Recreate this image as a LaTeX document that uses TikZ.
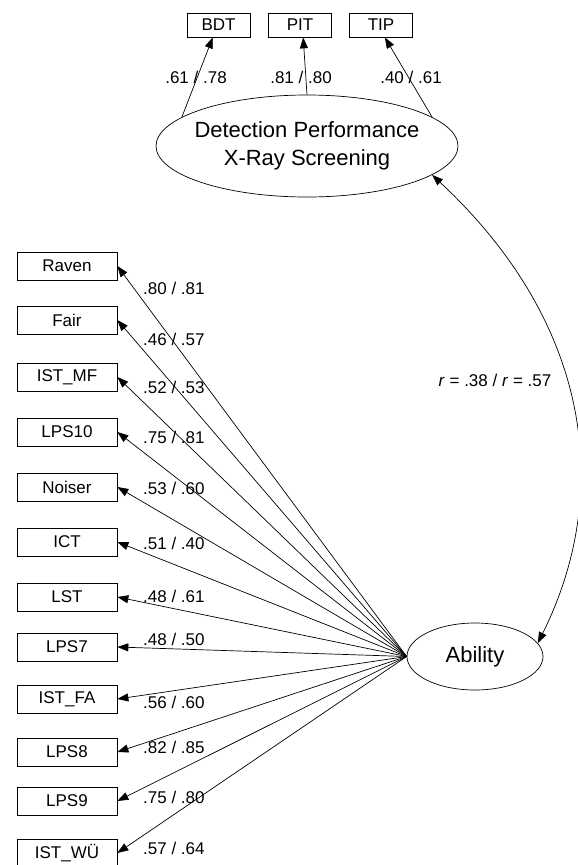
\documentclass[tikz,border=0pt]{standalone}
\usepackage{fontspec}
\setmainfont{Liberation Sans}
\usetikzlibrary{shapes.geometric,arrows.meta,calc}
\begin{document}
\begin{tikzpicture}[x=1pt,y=-1pt,
  obs/.style={draw, line width=0.7pt, minimum width=100pt, minimum height=28pt, inner sep=0pt, font=\fontsize{17}{20}\selectfont},
  obstop/.style={obs, minimum width=63pt, minimum height=24pt},
  lat/.style={draw, ellipse, line width=0.7pt, inner sep=0pt},
  lattext/.style={font=\fontsize{22}{28}\selectfont, align=center, inner sep=0pt},
  load/.style={font=\fontsize{17}{20}\selectfont, inner sep=0pt},
  arr/.style={line width=0.7pt, -{Triangle[length=11pt,width=8pt]}},
  darr/.style={line width=0.7pt, {Triangle[length=11pt,width=8pt]}-{Triangle[length=11pt,width=8pt]}},
]
\useasboundingbox (0,0) rectangle (578,865);

% top indicators
\node[obstop] (bdt) at (218.5,25) {BDT};
\node[obstop] (pit) at (300,25) {PIT};
\node[obstop] (tip) at (381,25) {TIP};

% latent variables
\node[lat, minimum width=302pt, minimum height=102pt] (det) at (307,146) {};
\node[lattext] (dett) at (det.center) {Detection Performance\\X-Ray Screening};
\node[lat, minimum width=136pt, minimum height=67pt] (abl) at (475,656.5) {};
\node[lattext] (ablt) at (abl.center) {Ability};

% top loadings
\draw[arr] (det.167) -- ($(bdt.south west)!0.41!(bdt.south east)$);
\draw[arr] (det.north) -- ($(pit.south west)!0.55!(pit.south east)$);
\draw[arr] (det.13) -- ($(tip.south west)!0.56!(tip.south east)$);
\node[load] (l1) at (196,77) {.61 / .78};
\node[load] (l2) at (301,77) {.81 / .80};
\node[load] (l3) at (411,77) {.40 / .61};

% left indicators
\node[obs] (raven) at (67,266) {Raven};
\node[obs] (fair) at (67,320) {Fair};
\node[obs] (istmf) at (67,377) {IST\_MF};
\node[obs] (lps10) at (67,432) {LPS10};
\node[obs] (noiser) at (67,487) {Noiser};
\node[obs] (ict) at (67,542) {ICT};
\node[obs] (lst) at (67,597) {LST};
\node[obs] (lps7) at (67,647) {LPS7};
\node[obs] (istfa) at (67,699) {IST\_FA};
\node[obs] (lps8) at (67,752) {LPS8};
\node[obs] (lps9) at (67,801) {LPS9};
\node[obs] (istwu) at (67,853) {IST\_WÜ};

\foreach \n in {raven,fair,istmf,lps10,noiser,ict,lst,lps7,istfa,lps8,lps9,istwu}
  \draw[arr] (abl.west) -- (\n.east);

\node[load, anchor=west] (a1) at (143,288) {.80 / .81};
\node[load, anchor=west] (a2) at (143,339) {.46 / .57};
\node[load, anchor=west] (a3) at (143,387) {.52 / .53};
\node[load, anchor=west] (a4) at (143,437) {.75 / .81};
\node[load, anchor=west] (a5) at (143,488) {.53 / .60};
\node[load, anchor=west] (a6) at (143,543) {.51 / .40};
\node[load, anchor=west] (a7) at (143,596) {.48 / .61};
\node[load, anchor=west] (a8) at (143,639) {.48 / .50};
\node[load, anchor=west] (a9) at (143,702) {.56 / .60};
\node[load, anchor=west] (a10) at (143,747) {.82 / .85};
\node[load, anchor=west] (a11) at (143,797) {.75 / .80};
\node[load, anchor=west] (a12) at (143,848) {.57 / .64};

% correlation
\draw[darr] (det.-13) .. controls (593,325) and (612,494) .. (abl.12);
\node[load] (r) at (495,380) {\textit{r} = .38 / \textit{r} = .57};
\end{tikzpicture}
\end{document}
